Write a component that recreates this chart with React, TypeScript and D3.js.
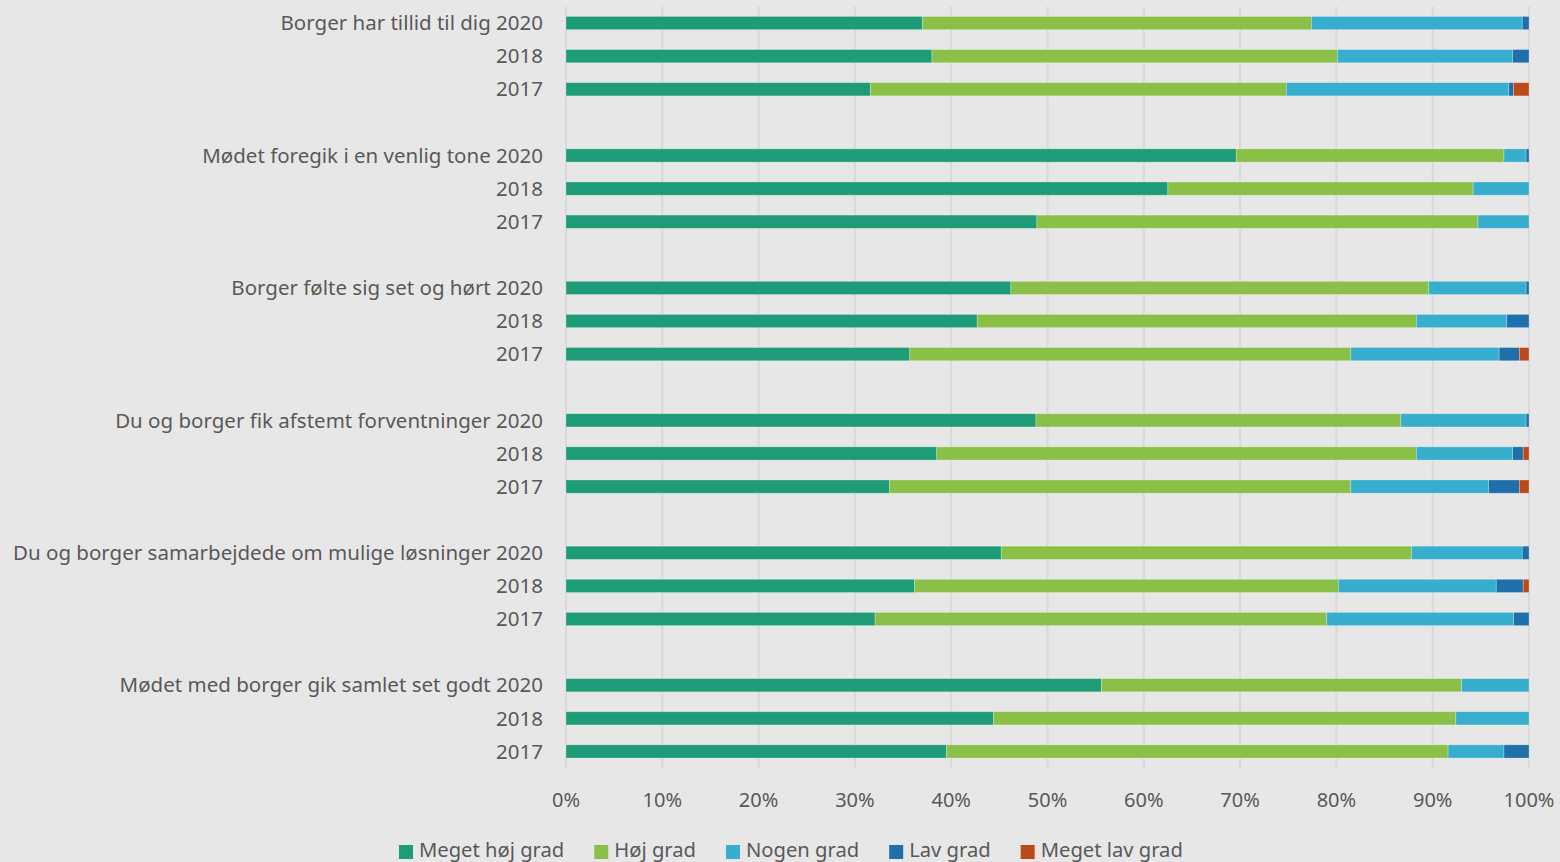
import React, { useEffect, useRef } from "react";
import * as d3 from "d3";

const questions = [
  "Borger har tillid til dig",
  "Mødet foregik i en venlig tone",
  "Borger følte sig set og hørt",
  "Du og borger fik afstemt forventninger",
  "Du og borger samarbejdede om mulige løsninger",
  "Mødet med borger gik samlet set godt",
];
const years = ["2020", "2018", "2017"];
const categories = ["Meget høj grad", "Høj grad", "Nogen grad", "Lav grad", "Meget lav grad"];
const colors = ["#1e9c78", "#8bc048", "#37aecd", "#1f6fab", "#bb4a1a"];
const ticks = [0, 0.1, 0.2, 0.3, 0.4, 0.5, 0.6, 0.7, 0.8, 0.9, 1];

// values per question, rows in order 2020, 2018, 2017 (percent per category)
const tillid = [
  [37.0, 40.4, 21.9, 0.7, 0],
  [38.0, 42.1, 18.2, 1.7, 0],
  [31.6, 43.2, 23.1, 0.5, 1.6],
];
const venlig = [
  [69.6, 27.8, 2.3, 0.3, 0],
  [62.5, 31.7, 5.8, 0, 0],
  [48.9, 45.8, 5.3, 0, 0],
];
const setHoert = [
  [46.2, 43.4, 10.1, 0.3, 0],
  [42.7, 45.6, 9.4, 2.3, 0],
  [35.7, 45.8, 15.4, 2.1, 1.0],
];
const afstemt = [
  [48.8, 37.9, 13.0, 0.3, 0],
  [38.5, 49.8, 10.0, 1.1, 0.6],
  [33.6, 47.9, 14.3, 3.2, 1.0],
];
const samarbejde = [
  [45.2, 42.6, 11.5, 0.7, 0],
  [36.2, 44.0, 16.4, 2.8, 0.6],
  [32.1, 46.9, 19.4, 1.6, 0],
];
const samlet = [
  [55.6, 37.4, 7.0, 0, 0],
  [44.4, 48.0, 7.6, 0, 0],
  [39.5, 52.1, 5.8, 2.6, 0],
];
const allValues = [tillid, venlig, setHoert, afstemt, samarbejde, samlet];

const W = 1560;
const H = 862;
const FONT = "Noto Sans, sans-serif";
const TEXT = "#595959";

function draw(node: SVGSVGElement) {
  const svg = d3.select(node);
  svg.selectAll("*").remove();

  // build rows with gap slots between groups
  const rows: { key: string; label: string; vals: number[] | null }[] = [];
  questions.forEach((q, qi) => {
    if (qi > 0) rows.push({ key: "gap" + qi, label: "", vals: null });
    years.forEach((yr, yi) => {
      rows.push({
        key: q + yr,
        label: yi === 0 ? `${q} ${yr}` : yr,
        vals: allValues[qi][yi],
      });
    });
  });

  const x = d3.scaleLinear().domain([0, 1]).range([566, 1529]);
  const y = d3
    .scaleBand<string>()
    .domain(rows.map((r) => r.key))
    .range([6.5, 768])
    .paddingInner(0.6)
    .paddingOuter(0.3);

  svg.append("rect").attr("width", W).attr("height", H).attr("fill", "#e7e7e7");

  // gridlines
  svg
    .append("g")
    .selectAll("line")
    .data(ticks)
    .join("line")
    .attr("x1", (d) => x(d))
    .attr("x2", (d) => x(d))
    .attr("y1", 6.5)
    .attr("y2", 768)
    .attr("stroke", "#d9d9d9")
    .attr("stroke-width", 2);

  // bars
  const dataRows = rows.filter((r) => r.vals);
  const g = svg.append("g");
  dataRows.forEach((r) => {
    const total = d3.sum(r.vals!);
    let acc = 0;
    r.vals!.forEach((v, i) => {
      if (v <= 0) return;
      const x0 = x(acc / total);
      acc += v;
      const x1 = x(acc / total);
      g.append("rect")
        .attr("x", x0)
        .attr("y", y(r.key)!)
        .attr("width", x1 - x0)
        .attr("height", y.bandwidth())
        .attr("fill", colors[i])
        .attr("stroke", "rgba(255,255,255,0.35)")
        .attr("stroke-width", 0.75);
    });
  });

  // row labels
  svg
    .append("g")
    .selectAll("text")
    .data(dataRows)
    .join("text")
    .attr("x", 543)
    .attr("y", (d) => y(d.key)! + y.bandwidth() / 2)
    .attr("dy", "0.35em")
    .attr("text-anchor", "end")
    .attr("font-family", FONT)
    .attr("font-size", 20.5)
    .attr("fill", TEXT)
    .text((d) => d.label);

  // x axis tick labels
  svg
    .append("g")
    .selectAll("text")
    .data(ticks)
    .join("text")
    .attr("x", (d) => x(d))
    .attr("y", 800)
    .attr("dy", "0.35em")
    .attr("text-anchor", "middle")
    .attr("font-family", FONT)
    .attr("font-size", 20)
    .attr("fill", TEXT)
    .text((d) => d3.format(".0%")(d));

  // legend
  const legend = svg.append("g");
  let lx = 399;
  categories.forEach((c, i) => {
    const item = legend.append("g");
    item
      .append("rect")
      .attr("x", lx)
      .attr("y", 845)
      .attr("width", 14)
      .attr("height", 14)
      .attr("fill", colors[i]);
    const t = item
      .append("text")
      .attr("x", lx + 20)
      .attr("y", 850)
      .attr("dy", "0.35em")
      .attr("font-family", FONT)
      .attr("font-size", 20.2)
      .attr("fill", TEXT)
      .text(c);
    const tw = (t.node() as SVGTextElement).getComputedTextLength();
    lx += 20 + tw + 30;
  });
}

export default function App() {
  const ref = useRef<SVGSVGElement>(null);
  useEffect(() => {
    if (ref.current) draw(ref.current);
  }, []);
  return (
    <svg
      ref={ref}
      width={W}
      height={H}
      style={{ position: "absolute", left: 0, top: 0, display: "block" }}
    />
  );
}
